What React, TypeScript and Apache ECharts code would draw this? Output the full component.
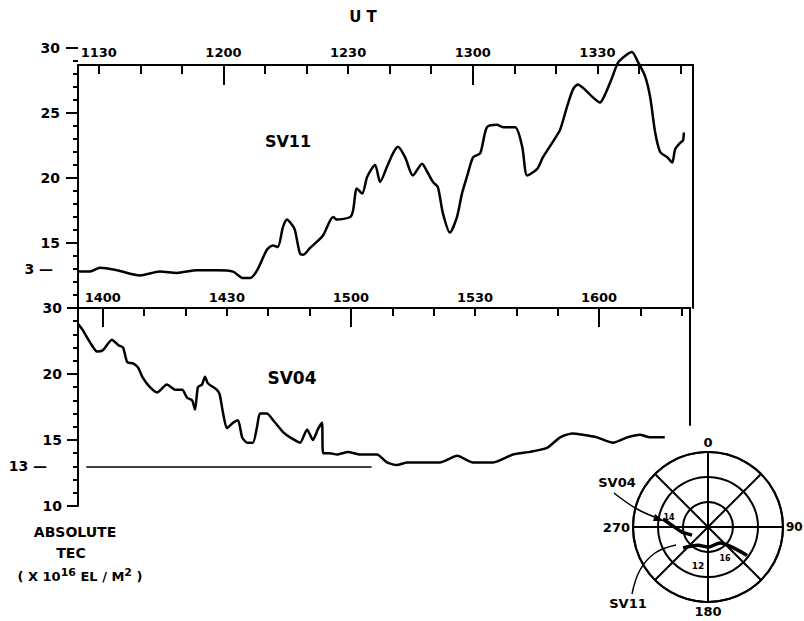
import React, { useEffect, useRef } from "react";
import * as echarts from "echarts";

// ---- SV11 (upper panel), UT in minutes of the day ----
const sv11Time = [
  685.0, 687.9, 690.3, 694.4, 699.9, 704.7, 708.8, 713.6, 718.5, 722.3, 724.7, 726.4, 728.1, 730.5, 731.9,
  733.1, 734.3, 735.3, 736.5, 737.2, 738.4, 739.2, 740.8, 742.5, 744.0, 746.4, 747.3, 750.5, 751.2, 752.1,
  753.4, 754.6, 756.5, 757.7, 759.4, 760.8, 762.0, 763.7, 765.6, 767.8, 769.0, 770.4, 771.6, 772.8, 774.5,
  776.2, 777.4, 778.6, 780.1, 781.8, 783.4, 785.8, 787.3, 790.2, 791.9, 793.1, 795.5, 796.9, 799.3, 801.0,
  802.7, 804.1, 805.3, 807.0, 808.9, 810.6, 811.8, 813.5, 815.0, 817.1, 818.3, 819.8, 821.5, 822.7, 823.9,
  825.1, 826.8, 828.0, 828.7, 829.9, 830.6, 830.8,
];
const sv11Tec = [
  12.8, 12.8, 13.1, 12.9, 12.5, 12.8, 12.7, 12.9, 12.9, 12.8, 12.3, 12.3, 12.9, 14.5, 14.8,
  14.7, 16.2, 16.8, 16.4, 16.0, 14.2, 14.1, 14.6, 15.1, 15.6, 17.0, 16.8, 17.0, 17.5, 19.2,
  18.8, 20.1, 21.0, 19.7, 20.9, 21.9, 22.4, 21.6, 20.2, 21.1, 20.5, 19.7, 19.3, 17.3, 15.8,
  17.0, 18.8, 20.1, 21.6, 21.9, 23.9, 24.1, 23.9, 23.9, 22.4, 20.2, 20.7, 21.6, 22.8, 23.7,
  25.5, 26.8, 27.2, 26.8, 26.2, 25.8, 26.4, 27.7, 28.9, 29.5, 29.7, 28.9, 27.8, 26.2, 23.5,
  22.0, 21.6, 21.2, 22.2, 22.7, 22.9, 23.5,
];

// ---- SV04 (lower panel) ----
const sv04Time = [
  834.0, 834.5, 835.2, 836.9, 838.6, 840.0, 842.2, 843.7, 844.9, 845.9, 847.3, 848.5, 849.7, 851.4, 853.1,
  855.5, 857.5, 859.2, 860.4, 861.6, 862.3, 863.0, 864.0, 864.7, 865.4, 867.6, 868.3, 869.1, 870.0, 871.5,
  872.7, 873.7, 874.9, 876.3, 877.3, 878.0, 879.7, 881.2, 883.6, 885.3, 887.7, 889.4, 890.8, 892.0, 893.0,
  893.3, 894.9, 896.6, 899.3, 902.2, 906.3, 908.7, 911.1, 913.6, 917.4, 921.5, 925.7, 929.5, 934.4, 939.2,
  943.3, 947.4, 950.6, 953.5, 956.1, 959.5, 963.4, 966.8, 969.9, 972.3, 975.9,
];
const sv04Tec = [
  23.8, 23.6, 23.3, 22.4, 21.7, 21.8, 22.6, 22.2, 22.0, 20.9, 20.8, 20.5, 19.7, 19.0, 18.6,
  19.2, 18.8, 18.8, 18.2, 18.0, 17.3, 19.0, 19.2, 19.8, 19.3, 18.8, 18.4, 17.0, 15.9, 16.3,
  16.5, 15.2, 14.8, 14.8, 16.0, 17.0, 17.0, 16.5, 15.6, 15.2, 14.8, 15.8, 15.0, 15.8, 16.3,
  14.0, 14.0, 13.9, 14.1, 13.9, 13.9, 13.3, 13.1, 13.3, 13.3, 13.3, 13.8, 13.3, 13.3, 13.9,
  14.1, 14.4, 15.2, 15.5, 15.4, 15.2, 14.8, 15.2, 15.4, 15.2, 15.2,
];
const baselineStart = 836;
const baselineEnd = 905;
const baselineValue = 13;

// ---- axes ----
const topRange = [685, 833];
const botRange = [834, 982];
const topTicks = [690, 700, 710, 720, 730, 740, 750, 760, 770, 780, 790, 800, 810, 820, 830];
const topHourTicks = [720, 780];
const topLabels = [690, 720, 750, 780, 810];
const botTicks = [840, 850, 860, 870, 880, 890, 900, 910, 920, 930, 940, 950, 960, 970, 980];
const botHourTicks = [840, 900, 960];
const botLabels = [840, 870, 900, 930, 960];

const topYLabels = [13, 15, 20, 25, 30];
const topYLabelText: Record<number, string> = { 13: "3 —", 15: "15", 20: "20", 25: "25", 30: "30" };
const topYMajor = [15, 20, 25, 30];
const topYMinor = [11, 12, 13, 14, 16, 17, 18, 19, 21, 22, 23, 24, 26, 27, 28, 29];
const botYLabels = [10, 13, 15, 20, 25];
const botYLabelText: Record<number, string> = { 10: "10", 13: "13 —", 15: "15", 20: "20", 25: "30" };
const botYMajor = [10, 15, 20, 25];
const botYMinor = [11, 12, 13, 14, 16, 17, 18, 19, 21, 22, 23, 24];

// ---- sky plot (radius = zenith angle, angle = azimuth) ----
const sv04Track = [[55, 280], [32, 259], [21.5, 243]];
const sv11Track = [[39, 230], [25, 209], [24, 180], [24, 143], [44, 128], [58, 126]];
const compassLabels = [0, 90, 180, 270];

const FONT = "DejaVu Sans";

function hhmm(v: number) {
  const h = Math.floor(v / 60);
  const m = Math.round(v - h * 60);
  return `${h}${String(m).padStart(2, "0")}`;
}

export default function App() {
  const ref = useRef<HTMLDivElement>(null);
  useEffect(() => {
    document.body.style.margin = "0";
    const chart = echarts.init(ref.current!, null, { renderer: "svg" });
    const axisLineStyle = { color: "#000", width: 2 };
    const xLabel = { color: "#000", fontFamily: FONT, fontWeight: "bold", fontSize: 13 };
    const yLabel = { color: "#000", fontFamily: FONT, fontWeight: "bold", fontSize: 14 };
    const farRich = (pad: number) => ({
      far: { color: "#000", fontFamily: FONT, fontWeight: "bold", fontSize: 14, padding: [0, pad, 0, 0] },
    });
    const line = (extra: any = {}) => ({ show: true, onZero: false, lineStyle: axisLineStyle, ...extra });
    const noLine = { show: false, onZero: false };

    const option: any = {
      animation: false,
      backgroundColor: "#fff",
      grid: [
        { left: 78, top: 65, width: 615, height: 243 },
        { left: 78, top: 48, width: 615, height: 260 },
        { left: 78, top: 308, width: 612, height: 198 },
        { left: 78, top: 308, width: 612, height: 117 },
      ],
      polar: { center: [708, 527], radius: 75 },
      angleAxis: {
        type: "value", min: 0, max: 360, interval: 45, startAngle: 90, clockwise: true,
        axisLine: { show: true, lineStyle: axisLineStyle },
        axisTick: { show: false },
        splitLine: { show: true, lineStyle: { color: "#000", width: 2 } },
        axisLabel: {
          ...yLabel, fontSize: 13, margin: 3,
          formatter: (v: number) =>
            compassLabels.includes(v) && v !== 360 ? (v === 90 ? "{s|90}" : String(v)) : "",
          rich: { s: { color: "#000", fontFamily: FONT, fontWeight: "bold", fontSize: 12 } },
        },
      },
      radiusAxis: {
        type: "value", min: 0, max: 90, interval: 30,
        axisLine: { show: false }, axisTick: { show: false }, axisLabel: { show: false },
        splitLine: { show: true, lineStyle: { color: "#000", width: 2 } },
      },
      xAxis: [
        {
          gridIndex: 0, type: "value", position: "top", min: topRange[0], max: topRange[1],
          axisLine: line(),
          axisTick: { show: true, inside: true, length: 9, customValues: topTicks, lineStyle: axisLineStyle },
          axisLabel: { ...xLabel, margin: 6, customValues: topLabels, formatter: hhmm },
          splitLine: { show: false },
        },
        {
          gridIndex: 0, type: "value", position: "top", min: topRange[0], max: topRange[1],
          axisLine: noLine,
          axisTick: { show: true, inside: true, length: 20, customValues: topHourTicks, lineStyle: axisLineStyle },
          axisLabel: { show: false }, splitLine: { show: false },
        },
        { gridIndex: 1, type: "value", min: topRange[0], max: topRange[1], show: false, axisLine: noLine },
        {
          gridIndex: 2, type: "value", position: "top", min: botRange[0], max: botRange[1],
          axisLine: line(),
          axisTick: { show: true, inside: true, length: 8, customValues: botTicks, lineStyle: axisLineStyle },
          axisLabel: { ...xLabel, margin: 4, customValues: botLabels, formatter: hhmm },
          splitLine: { show: false },
        },
        {
          gridIndex: 2, type: "value", position: "top", min: botRange[0], max: botRange[1],
          axisLine: noLine,
          axisTick: { show: true, inside: true, length: 19, customValues: botHourTicks, lineStyle: axisLineStyle },
          axisLabel: { show: false }, splitLine: { show: false },
        },
        { gridIndex: 3, type: "value", min: botRange[0], max: botRange[1], show: false, axisLine: noLine },
      ],
      yAxis: [
        {
          gridIndex: 0, type: "value", min: 0, max: 1, position: "left",
          axisLine: line(), axisTick: { show: false }, axisLabel: { show: false }, splitLine: { show: false },
        },
        {
          gridIndex: 0, type: "value", min: 0, max: 1, position: "right",
          axisLine: line(), axisTick: { show: false }, axisLabel: { show: false }, splitLine: { show: false },
        },
        {
          gridIndex: 1, type: "value", min: 10, max: 30, position: "left",
          axisLine: noLine,
          axisTick: { show: true, length: 12, customValues: topYMajor, lineStyle: axisLineStyle },
          axisLabel: {
            ...yLabel, margin: 18, customValues: topYLabels,
            formatter: (v: number) => (v === 13 ? `{far|${topYLabelText[v]}}` : topYLabelText[v]),
            rich: farRich(7),
          },
          splitLine: { show: false },
        },
        {
          gridIndex: 1, type: "value", min: 10, max: 30, position: "left",
          axisLine: noLine,
          axisTick: { show: true, length: 5, customValues: topYMinor, lineStyle: axisLineStyle },
          axisLabel: { show: false }, splitLine: { show: false },
        },
        {
          gridIndex: 2, type: "value", min: 10, max: 25, position: "left",
          axisLine: line(),
          axisTick: { show: true, length: 11, customValues: botYMajor, lineStyle: axisLineStyle },
          axisLabel: {
            ...yLabel, margin: 16, customValues: botYLabels,
            formatter: (v: number) => (v === 13 ? `{far|${botYLabelText[v]}}` : botYLabelText[v]),
            rich: farRich(15),
          },
          splitLine: { show: false },
        },
        {
          gridIndex: 2, type: "value", min: 10, max: 25, position: "left",
          axisLine: noLine,
          axisTick: { show: true, length: 5, customValues: botYMinor, lineStyle: axisLineStyle },
          axisLabel: { show: false }, splitLine: { show: false },
        },
        {
          gridIndex: 3, type: "value", min: 0, max: 1, position: "right",
          axisLine: line(), axisTick: { show: false }, axisLabel: { show: false }, splitLine: { show: false },
        },
      ],
      series: [
        {
          type: "line", name: "SV11", xAxisIndex: 2, yAxisIndex: 2,
          data: sv11Time.map((t, i) => [t, sv11Tec[i]]),
          showSymbol: false, smooth: 0.25, clip: false,
          lineStyle: { color: "#000", width: 2.5 },
        },
        {
          type: "line", name: "SV04", xAxisIndex: 3, yAxisIndex: 4,
          data: sv04Time.map((t, i) => [t, sv04Tec[i]]),
          showSymbol: false, smooth: 0.2, clip: false,
          lineStyle: { color: "#000", width: 2.5 },
          markLine: {
            silent: true, symbol: ["none", "none"], label: { show: false },
            lineStyle: { color: "#000", width: 1.5, type: "solid" },
            data: [[{ coord: [baselineStart, baselineValue] }, { coord: [baselineEnd, baselineValue] }]],
          },
        },
        {
          type: "line", coordinateSystem: "polar", data: sv04Track, showSymbol: false,
          lineStyle: { color: "#000", width: 3.5 },
        },
        {
          type: "line", coordinateSystem: "polar", data: sv11Track, showSymbol: false, smooth: 0.3,
          lineStyle: { color: "#000", width: 3.5 },
        },
      ],
      graphic: [
        { type: "text", x: 363, y: 17, style: { text: "U T", align: "center", verticalAlign: "middle", fill: "#000", font: `bold 15px '${FONT}'` } },
        { type: "text", x: 288, y: 141, style: { text: "SV11", align: "center", verticalAlign: "middle", fill: "#000", font: `bold 16px '${FONT}'` } },
        { type: "text", x: 292, y: 378, style: { text: "SV04", align: "center", verticalAlign: "middle", fill: "#000", font: `bold 17px '${FONT}'` } },
        { type: "text", x: 75, y: 532, style: { text: "ABSOLUTE", align: "center", verticalAlign: "middle", fill: "#000", font: `bold 14px '${FONT}'` } },
        { type: "text", x: 71, y: 553, style: { text: "TEC", align: "center", verticalAlign: "middle", fill: "#000", font: `bold 14px '${FONT}'` } },
        {
          type: "text", x: 80, y: 576,
          style: {
            text: "( X 10{sup|16} EL / M{sup|2} )", align: "center", verticalAlign: "middle", fill: "#000",
            font: `bold 13px '${FONT}'`,
            rich: { sup: { fontSize: 11, fontWeight: "bold", fontFamily: FONT, fill: "#000", verticalAlign: "bottom", padding: [0, 0, 8, 0] } },
          },
        },
        { type: "text", x: 617, y: 482, style: { text: "SV04", align: "center", verticalAlign: "middle", fill: "#000", font: `bold 13px '${FONT}'` } },
        { type: "text", x: 628, y: 603, style: { text: "SV11", align: "center", verticalAlign: "middle", fill: "#000", font: `bold 13px '${FONT}'` } },
        { type: "text", x: 669, y: 517, style: { text: "14", align: "center", verticalAlign: "middle", fill: "#000", font: `bold 8px '${FONT}'` } },
        { type: "text", x: 698, y: 566, style: { text: "12", align: "center", verticalAlign: "middle", fill: "#000", font: `bold 9px '${FONT}'` } },
        { type: "text", x: 725, y: 558, style: { text: "16", align: "center", verticalAlign: "middle", fill: "#000", font: `bold 8px '${FONT}'` } },
        {
          type: "polyline", shape: { points: [[614, 493], [637, 509], [660, 519]], smooth: 0.4 },
          style: { stroke: "#000", lineWidth: 1.5, fill: "none" },
        },
        { type: "polygon", shape: { points: [[664, 521], [655, 514], [653, 521]] }, style: { fill: "#000" } },
        {
          type: "polyline", shape: { points: [[632, 594], [640, 570], [655, 553], [676, 545]], smooth: 0.4 },
          style: { stroke: "#000", lineWidth: 1.5, fill: "none" },
        },
      ],
    };
    chart.setOption(option);
    return () => chart.dispose();
  }, []);
  return (
    <div
      ref={ref}
      style={{ position: "fixed", left: 0, top: 0, width: 804, height: 621, background: "#fff" }}
    />
  );
}
